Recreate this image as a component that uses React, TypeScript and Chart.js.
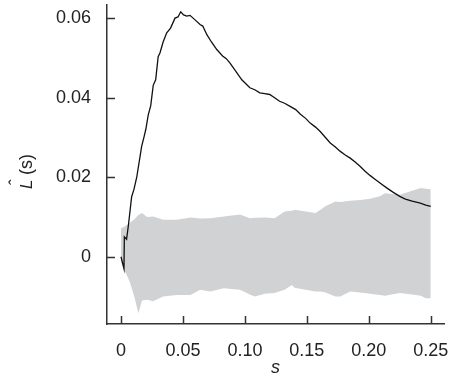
import React, { useEffect, useRef } from "react";
import { Chart, registerables } from "chart.js";

Chart.register(...registerables);

// Observed statistic L̂(s)
const lineS = [0, 0.0024, 0.0027, 0.0045, 0.006, 0.0086, 0.0105, 0.0127, 0.015, 0.0167, 0.0185, 0.02, 0.022, 0.024, 0.026, 0.028, 0.03, 0.0315, 0.034, 0.0369, 0.04, 0.0436, 0.046, 0.0482, 0.0505, 0.053, 0.0557, 0.06, 0.0638, 0.066, 0.0692, 0.073, 0.0773, 0.082, 0.085, 0.088, 0.093, 0.0975, 0.104, 0.108, 0.112, 0.116, 0.12, 0.124, 0.128, 0.132, 0.1365, 0.141, 0.1446, 0.149, 0.1527, 0.157, 0.1608, 0.165, 0.1689, 0.173, 0.177, 0.181, 0.185, 0.189, 0.1931, 0.197, 0.2012, 0.205, 0.2093, 0.215, 0.2198, 0.225, 0.2295, 0.235, 0.2416, 0.246, 0.25];
const lineL = [0, -0.003, 0.005, 0.0044, 0.008, 0.0151, 0.017, 0.02, 0.0245, 0.0278, 0.03, 0.032, 0.0357, 0.038, 0.0431, 0.0445, 0.0503, 0.0513, 0.054, 0.0563, 0.0575, 0.06, 0.0603, 0.0616, 0.0608, 0.0605, 0.0607, 0.0595, 0.0584, 0.058, 0.0559, 0.054, 0.0521, 0.0505, 0.0498, 0.0487, 0.0465, 0.0445, 0.0425, 0.042, 0.0412, 0.041, 0.0408, 0.04, 0.0391, 0.0386, 0.0378, 0.037, 0.0359, 0.0348, 0.0336, 0.0326, 0.0315, 0.03, 0.0286, 0.0276, 0.0265, 0.0256, 0.0248, 0.0238, 0.0227, 0.0215, 0.0204, 0.0195, 0.0185, 0.0172, 0.0162, 0.0152, 0.0145, 0.014, 0.0135, 0.013, 0.0127];

// Simulation envelope
const bandS = [0, 0.003, 0.007, 0.011, 0.014, 0.017, 0.021, 0.026, 0.034, 0.045, 0.056, 0.064, 0.072, 0.083, 0.096, 0.104, 0.108, 0.116, 0.124, 0.132, 0.138, 0.14, 0.149, 0.157, 0.161, 0.165, 0.173, 0.177, 0.185, 0.193, 0.201, 0.209, 0.213, 0.225, 0.238, 0.242, 0.246, 0.25];
const bandUpper = [0.0072, 0.0076, 0.0085, 0.0095, 0.0105, 0.011, 0.01, 0.0101, 0.0093, 0.0093, 0.0099, 0.0096, 0.0097, 0.0101, 0.0106, 0.0097, 0.0098, 0.0099, 0.0097, 0.0114, 0.0116, 0.0118, 0.0114, 0.011, 0.0118, 0.0127, 0.0139, 0.0138, 0.0141, 0.0143, 0.0146, 0.0152, 0.016, 0.0156, 0.0169, 0.0173, 0.0171, 0.017];
const bandLower = [-0.0012, -0.0035, -0.0062, -0.0103, -0.0142, -0.011, -0.0108, -0.0112, -0.01, -0.0096, -0.0096, -0.0083, -0.0087, -0.0079, -0.0083, -0.0095, -0.01, -0.0093, -0.0091, -0.0083, -0.0071, -0.0078, -0.0083, -0.0087, -0.0087, -0.009, -0.01, -0.01, -0.0087, -0.009, -0.0093, -0.0096, -0.0098, -0.0091, -0.0096, -0.0098, -0.0104, -0.0104];

const xTicks = [0, 0.05, 0.1, 0.15, 0.2, 0.25];
const xTickLabels = ["0", "0.05", "0.10", "0.15", "0.20", "0.25"];
const yTicks = [0, 0.02, 0.04, 0.06];
const yTickLabels = ["0", "0.02", "0.04", "0.06"];

const FONT = "'Liberation Sans', Arial, Helvetica, sans-serif";
const AXIS_COLOR = "#333333";

const decorPlugin = {
  id: "decor",
  afterDatasetsDraw(chart: any) {
    const { ctx, chartArea, scales } = chart;
    const xs = scales.x;
    const ys = scales.y;
    ctx.save();
    ctx.strokeStyle = AXIS_COLOR;
    ctx.lineWidth = 1.5;
    ctx.beginPath();
    for (const v of yTicks) {
      const py = Math.round(ys.getPixelForValue(v)) + 0.5;
      ctx.moveTo(chartArea.left, py);
      ctx.lineTo(chartArea.left + 8, py);
    }
    for (const v of xTicks) {
      const px = Math.round(xs.getPixelForValue(v)) + 0.5;
      ctx.moveTo(px, chartArea.bottom);
      ctx.lineTo(px, chartArea.bottom - 8);
    }
    ctx.stroke();
    ctx.restore();
  },
  afterDraw(chart: any) {
    const { ctx, chartArea } = chart;
    ctx.save();
    ctx.fillStyle = "#222222";
    ctx.font = `italic 18px ${FONT}`;
    ctx.textAlign = "center";
    ctx.textBaseline = "alphabetic";
    ctx.fillText("s", (chartArea.left + chartArea.right) / 2, 373);
    ctx.translate(32, 189);
    ctx.rotate(-Math.PI / 2);
    ctx.textAlign = "left";
    ctx.font = `italic 17px ${FONT}`;
    ctx.fillText("L", 0, 0);
    ctx.font = `17px ${FONT}`;
    ctx.fillText("ˆ", 4, -11);
    ctx.font = `18px ${FONT}`;
    ctx.fillText("(s)", 14, 0);
    ctx.restore();
  },
};

const zeroPad = (scale: any) => {
  scale.paddingLeft = 0;
  scale.paddingRight = 0;
  scale.paddingTop = 0;
  scale.paddingBottom = 0;
};

export default function App() {
  const canvasRef = useRef<HTMLCanvasElement | null>(null);

  useEffect(() => {
    if (!canvasRef.current) return;
    const chart = new Chart(canvasRef.current, {
      type: "line",
      data: {
        datasets: [
          {
            label: "L",
            data: lineS.map((s, i) => ({ x: s, y: lineL[i] })),
            borderColor: "#111111",
            borderWidth: 1.3,
            pointRadius: 0,
            fill: false,
            tension: 0,
          },
          {
            label: "upper",
            data: bandS.map((s, i) => ({ x: s, y: bandUpper[i] })),
            borderColor: "rgba(0,0,0,0)",
            borderWidth: 0,
            backgroundColor: "#d1d2d4",
            pointRadius: 0,
            fill: "+1",
            tension: 0,
          },
          {
            label: "lower",
            data: bandS.map((s, i) => ({ x: s, y: bandLower[i] })),
            borderColor: "rgba(0,0,0,0)",
            borderWidth: 0,
            backgroundColor: "#d1d2d4",
            pointRadius: 0,
            fill: false,
            tension: 0,
          },
        ],
      },
      options: {
        animation: false,
        responsive: true,
        maintainAspectRatio: false,
        layout: { padding: { left: 0, top: 5, right: 11, bottom: 0 } },
        plugins: {
          legend: { display: false },
          tooltip: { enabled: false },
        },
        scales: {
          x: {
            type: "linear",
            min: -0.0113,
            max: 0.2607,
            afterBuildTicks: (scale: any) => {
              scale.ticks = xTicks.map((v) => ({ value: v }));
            },
            afterFit: (scale: any) => {
              scale.height = 56;
              zeroPad(scale);
            },
            grid: { display: false, drawTicks: false },
            border: { display: true, color: AXIS_COLOR, width: 1.5 },
            ticks: {
              padding: 16,
              color: "#222222",
              font: { family: FONT, size: 18 },
              maxRotation: 0,
              autoSkip: false,
              callback: (v: any) => {
                const i = xTicks.findIndex((t) => Math.abs(t - Number(v)) < 1e-9);
                return i >= 0 ? xTickLabels[i] : "";
              },
            },
          },
          y: {
            type: "linear",
            min: -0.0169,
            max: 0.0633,
            afterBuildTicks: (scale: any) => {
              scale.ticks = yTicks.map((v) => ({ value: v }));
            },
            afterFit: (scale: any) => {
              scale.width = 107;
              zeroPad(scale);
            },
            grid: { display: false, drawTicks: false },
            border: { display: true, color: AXIS_COLOR, width: 1.5 },
            ticks: {
              padding: 16,
              color: "#222222",
              font: { family: FONT, size: 18 },
              autoSkip: false,
              callback: (v: any) => {
                const i = yTicks.findIndex((t) => Math.abs(t - Number(v)) < 1e-9);
                return i >= 0 ? yTickLabels[i] : "";
              },
            },
          },
        },
      },
      plugins: [decorPlugin],
    });
    return () => chart.destroy();
  }, []);

  return (
    <div style={{ position: "fixed", left: 0, top: 0, width: 455, height: 380, background: "#ffffff" }}>
      <canvas ref={canvasRef} />
    </div>
  );
}
